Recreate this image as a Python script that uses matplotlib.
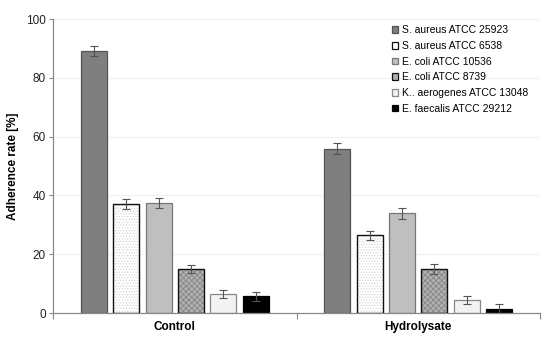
import matplotlib
matplotlib.use("Agg")
import matplotlib.pyplot as plt
from matplotlib.patches import Patch
import numpy as np

plt.rcParams['font.family'] = ['Liberation Sans', 'DejaVu Sans']
plt.rcParams['hatch.linewidth'] = 0.5

categories = ["Control", "Hydrolysate"]
strains = ["S. aureus ATCC 25923", "S. aureus ATCC 6538", "E. coli ATCC 10536",
           "E. coli ATCC 8739", "K.. aerogenes ATCC 13048", "E. faecalis ATCC 29212"]
values_control = [89.1, 37.1, 37.4, 14.9, 6.4, 5.7]
errors_control = [1.8, 1.8, 1.7, 1.3, 1.3, 1.5]
values_hydro = [55.9, 26.4, 33.9, 14.9, 4.4, 1.4]
errors_hydro = [1.8, 1.4, 1.8, 1.8, 1.3, 1.6]
yticks = [0, 20, 40, 60, 80, 100]

faces = ['#7f7f7f', '#ffffff', '#bfbfbf', '#b0b0b0', '#f2f2f2', '#000000']
edges = ['#555555', '#111111', '#777777', '#111111', '#888888', '#000000']
hatches = [None, '......', None, 'xxxxxx', None, None]
hatch_cols = [None, '#cfcfcf', None, '#808080', None, None]

fig = plt.figure(figsize=(5.5, 3.39), dpi=100)
ax = fig.add_axes([53/550, 26/339, 487/550, 294/339])

x = np.arange(len(categories))
n = len(strains)
pitch = 0.133
width = 0.107
handles = []
for i in range(n):
    vals = [values_control[i], values_hydro[i]]
    errs = [errors_control[i], errors_hydro[i]]
    pos = x + (i - (n - 1) / 2) * pitch
    if hatches[i]:
        ax.bar(pos, vals, width, color=faces[i], edgecolor=hatch_cols[i],
               hatch=hatches[i], linewidth=0, zorder=2)
        ax.bar(pos, vals, width, facecolor='none', edgecolor=edges[i],
               linewidth=1.0, zorder=3)
    else:
        ax.bar(pos, vals, width, color=faces[i], edgecolor=edges[i],
               linewidth=0.9, zorder=2)
    ax.errorbar(pos, vals, yerr=errs, fmt='none', ecolor='#555555',
                elinewidth=0.8, capsize=2.8, capthick=0.8, zorder=4)
    handles.append(Patch(facecolor=faces[i], edgecolor=edges[i], linewidth=0.9))

ax.set_xlim(-0.5, 1.5)
ax.set_ylim(0, 100)
ax.set_yticks(yticks)
ax.set_yticklabels([str(t) for t in yticks], fontsize=8.5, color='#222222')
ax.set_xticks(x)
ax.set_xticklabels(categories, fontsize=8.5, fontweight='bold')
ax.tick_params(axis='x', length=0, pad=6)
ax.tick_params(axis='y', length=3, color='#888888', width=0.8, pad=2)
ax.set_xticks([-0.5, 0.5, 1.5], minor=True)
ax.tick_params(axis='x', which='minor', length=4, color='#888888', width=0.8)
ax.set_ylabel("Adherence rate [%]", fontsize=8.5, fontweight='bold', labelpad=5)

for t in yticks[1:]:
    ax.axhline(t, color='#f1f0e6', linewidth=0.7, zorder=0)

for s in ['top', 'right']:
    ax.spines[s].set_visible(False)
for s in ['left', 'bottom']:
    ax.spines[s].set_color('#888888')
    ax.spines[s].set_linewidth(0.9)

leg = ax.legend(handles, strains, loc='upper left', bbox_to_anchor=(335/487, 1 - 2/294),
                frameon=False, fontsize=7.5, handlelength=0.6, handleheight=0.6,
                handletextpad=0.3, labelspacing=0.55, borderaxespad=0)

fig.savefig("out.png", dpi=100)
